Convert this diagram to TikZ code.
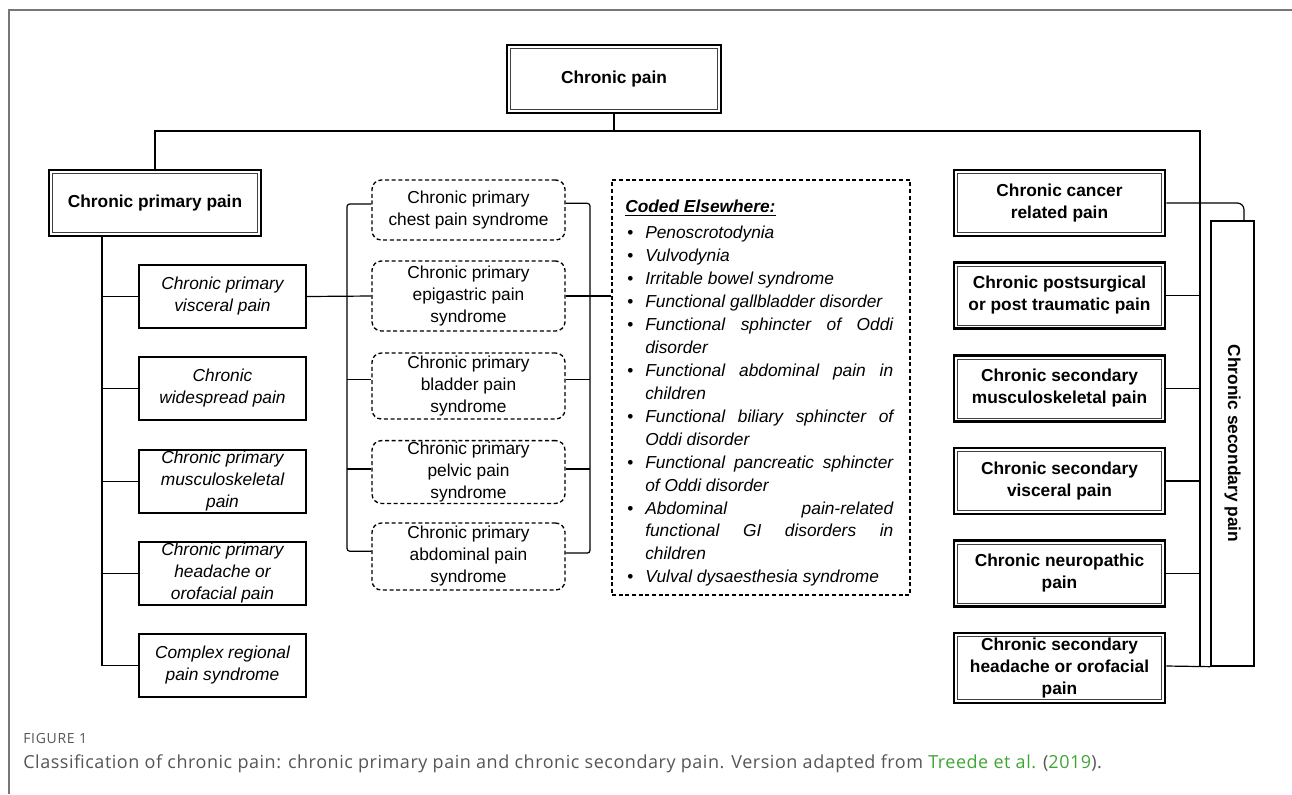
\documentclass[tikz,border=0pt]{standalone}
\usepackage{fontspec}
\setmainfont{Liberation Sans}
\newfontfamily\capfont[LetterSpace=3]{Open Sans}
\newfontfamily\figfont[LetterSpace=5]{Open Sans}
\definecolor{capgray}{HTML}{555555}
\definecolor{framegray}{HTML}{777777}
\definecolor{frgreen}{HTML}{3FA535}
\newcommand\fs{\fontsize{13}{16.5}\selectfont}
\newcommand\citem[1]{\par\noindent\hangindent=15pt\hangafter=1\makebox[15pt][l]{\hspace{1.5pt}\upshape\textbullet}#1}
\tikzset{
  conn/.style={line width=0.9pt},
  bbox/.style={draw, line width=2pt, align=center, inner sep=1pt, font=\bfseries\fs,
    path picture={\draw[line width=0.7pt, black!75]
      ([shift={(2.6pt,-2.6pt)}]path picture bounding box.north west) rectangle
      ([shift={(-2.6pt,2.6pt)}]path picture bounding box.south east);}},
  rbox/.style={bbox, minimum width=158.25pt, minimum height=49.5pt},
  ibox/.style={draw, line width=1.2pt, align=center, inner sep=1pt, font=\itshape\fs,
    minimum width=125.25pt, minimum height=47.25pt},
  dbox/.style={draw, dash pattern=on 3pt off 2pt, line width=1pt, rounded corners=7pt,
    align=center, inner sep=1pt, font=\fs, minimum width=144.75pt},
}
\begin{document}
\begin{tikzpicture}[x=0.75pt, y=-0.75pt]
\useasboundingbox (0,0) rectangle (1292,794);
% frame
\draw[framegray, line width=0.8pt] (9,794) -- (9,10) -- (1292,10);

% top
\node[bbox, minimum width=160.5pt, minimum height=51pt] (cp) at (614,79) {Chronic pain};
\node[bbox, minimum width=159pt, minimum height=49.5pt] (prim) at (155,203) {Chronic primary pain};

% left column
\node[ibox] (L1) at (222.5,296.5) {Chronic primary\\visceral pain};
\node[ibox] (L2) at (222.5,388.5) {Chronic\\widespread pain};
\node[ibox] (L3) at (222.5,481.5) {Chronic primary\\musculoskeletal\\pain};
\node[ibox] (L4) at (222.5,573.5) {Chronic primary\\headache or\\orofacial pain};
\node[ibox] (L5) at (222.5,665.5) {Complex regional\\pain syndrome};

% middle dashed
\node[dbox, minimum height=45pt] (Ma) at (468.5,210) {Chronic primary\\chest pain syndrome};
\node[dbox, minimum height=52.5pt] (Mb) at (468.5,296) {Chronic primary\\epigastric pain\\syndrome};
\node[dbox, minimum height=49.5pt] (Mc) at (468.5,386) {Chronic primary\\bladder pain\\syndrome};
\node[dbox, minimum height=46.5pt] (Md) at (468.5,472) {Chronic primary\\pelvic pain\\syndrome};
\node[dbox, minimum height=50.25pt] (Me) at (468.5,556.5) {Chronic primary\\abdominal pain\\syndrome};

% coded elsewhere
\node[draw, dash pattern=on 3pt off 2pt, line width=1pt, minimum width=223.5pt, minimum height=311.25pt] (coded) at (761,387.5) {};
\node[anchor=north west, inner sep=0pt, text width=201pt, align=justify,
      font=\itshape\fontsize{13}{17.2}\selectfont] (codedtxt) at (625,200) {%
\tolerance=10000\hyphenpenalty=10000\exhyphenpenalty=10000
\noindent\underline{\textbf{Coded Elsewhere:}}\par\vspace{2.3pt}
\citem{Penoscrotodynia}
\citem{Vulvodynia}
\citem{Irritable bowel syndrome}
\citem{Functional gallbladder disorder}
\citem{Functional sphincter of Oddi\linebreak disorder}
\citem{Functional abdominal pain in\linebreak children}
\citem{Functional biliary sphincter of\linebreak Oddi disorder}
\citem{Functional pancreatic sphincter\linebreak of Oddi disorder}
\citem{Abdominal pain-related\linebreak functional GI disorders in\linebreak children}
\citem{Vulval dysaesthesia syndrome}\par};

% right column
\node[rbox] (R1) at (1059.5,203) {Chronic cancer\\related pain};
\node[rbox] (R2) at (1059.5,295.5) {Chronic postsurgical\\or post traumatic pain};
\node[rbox] (R3) at (1059.5,388.5) {Chronic secondary\\musculoskeletal pain};
\node[rbox] (R4) at (1059.5,481) {Chronic secondary\\visceral pain};
\node[rbox] (R5) at (1059.5,573.5) {Chronic neuropathic\\pain};
\node[rbox, minimum height=52.5pt] (R6) at (1059.5,668) {Chronic secondary\\headache or orofacial\\pain};

\node[draw, line width=1pt, minimum width=32.25pt, minimum height=333.75pt] (sec) at (1232.5,443.5) {};
\node[rotate=-90, font=\bfseries\fs] (sectext) at (sec.center) {Chronic secondary pain};

% connectors: top tree
\coordinate (tl) at (155,131);
\coordinate (tr) at (1200,131);
\coordinate (rb) at (1200,666);
\draw[conn] (cp.south) -- (cp.south |- tl);
\draw[conn] (prim.north) -- (tl) -- (tr) -- (rb);

% left tree
\coordinate (lx) at (102,0);
\draw[conn] (lx |- prim.south) |- (L5.west);
\foreach \n in {L1,L2,L3,L4} \draw[conn] (lx |- \n.west) -- (\n.west);

% middle brackets
\coordinate (mlx) at (347,0);
\coordinate (mrx) at (590,0);
\coordinate (mal) at ([yshift=4.5pt]Ma.west);
\coordinate (mcl) at ([yshift=5pt]Mc.west);
\coordinate (mdl) at ([yshift=2.25pt]Md.west);
\coordinate (mel) at ([yshift=4pt]Me.west);
\coordinate (mar) at ([yshift=5pt]Ma.east);
\coordinate (mcr) at ([yshift=5pt]Mc.east);
\coordinate (mdr) at ([yshift=2.25pt]Md.east);
\coordinate (mer) at ([yshift=2.6pt]Me.east);
\draw[conn] (L1.east) -- (Mb.west);
\draw[conn, rounded corners=2pt] (mal) -- (mal -| mlx) -- (mel -| mlx) -- (mel);
\draw[conn] (mcl -| mlx) -- (mcl);
\draw[conn] (mdl -| mlx) -- (mdl);
\draw[conn, rounded corners=2pt] (mar) -- (mar -| mrx) -- (mer -| mrx) -- (mer);
\draw[conn] (mcr -| mrx) -- (mcr);
\draw[conn] (mdr -| mrx) -- (mdr);
\draw[conn] (Mb.east) -- (Mb.east -| coded.west);

% right tree
\foreach \n in {R2,R3,R4,R5} \draw[conn] (\n.east) -- (\n.east -| tr);
\draw[conn] (R6.east |- rb) -- (sec.south west);
\coordinate (sk) at (1244,0);
\draw[conn, rounded corners=5pt] (R1.east) -- (R1.east -| sk) -- (sk |- sec.north);

% caption
\node[anchor=base west, inner sep=0pt, font=\figfont\fontsize{10.5}{12}\selectfont, text=capgray] (fig) at (23,743) {FIGURE 1};
\node[anchor=base west, inner sep=0pt, font=\capfont\fontsize{13.5}{16}\selectfont, text=capgray] (cap) at (23,768)
  {Classification of chronic pain: chronic primary pain and chronic secondary pain. Version adapted from \textcolor{frgreen}{Treede et al.} (\textcolor{frgreen}{2019}).};
\end{tikzpicture}
\end{document}
